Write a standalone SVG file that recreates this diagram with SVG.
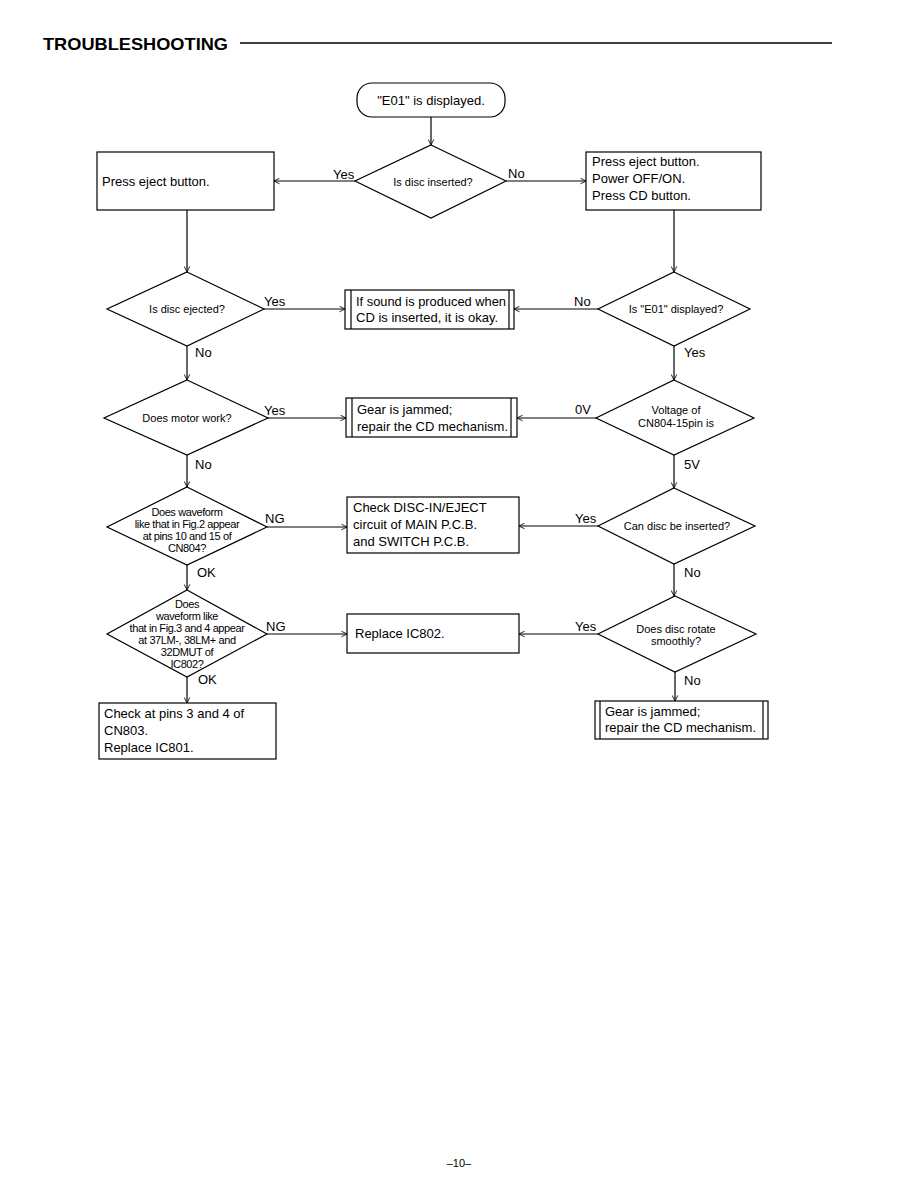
<svg xmlns="http://www.w3.org/2000/svg" width="918" height="1188" viewBox="0 0 918 1188">
<defs>
<style>
.s{fill:none;stroke:#000;stroke-width:1.2}
.b{fill:#fff;stroke:#000;stroke-width:1.2}
.t{font-family:"Liberation Sans",Arial,sans-serif;font-size:13px;fill:#000}
.d{font-family:"Liberation Sans",Arial,sans-serif;font-size:11px;fill:#000}
.c{font-family:"Liberation Sans",Arial,sans-serif;font-size:11px;fill:#000;letter-spacing:-0.4px}
.m{text-anchor:middle}
.l{font-family:"Liberation Sans",Arial,sans-serif;font-size:13px;fill:#000}
</style>
<marker id="a" viewBox="0 0 10 10" refX="10" refY="5" markerWidth="7" markerHeight="7" orient="auto" markerUnits="userSpaceOnUse">
<path d="M2,1 L10,5 L2,9" fill="none" stroke="#000" stroke-width="1.2"/>
</marker>
</defs>
<rect width="918" height="1188" fill="#fff"/>
<text x="43" y="50" font-family="Liberation Sans,Arial,sans-serif" font-size="17" font-weight="bold" textLength="185" lengthAdjust="spacingAndGlyphs">TROUBLESHOOTING</text>
<line x1="240" y1="43" x2="832" y2="43" stroke="#000" stroke-width="1.5"/>

<g id="connectors" class="s">
<line x1="431" y1="117" x2="431" y2="145" marker-end="url(#a)"/>
<line x1="355" y1="181" x2="274" y2="181" marker-end="url(#a)"/>
<line x1="506" y1="181" x2="586" y2="181" marker-end="url(#a)"/>
<line x1="187" y1="210" x2="187" y2="272" marker-end="url(#a)"/>
<line x1="674" y1="210" x2="674" y2="272" marker-end="url(#a)"/>
<line x1="264" y1="309" x2="345" y2="309" marker-end="url(#a)"/>
<line x1="598" y1="309" x2="514" y2="309" marker-end="url(#a)"/>
<line x1="187" y1="346" x2="187" y2="380" marker-end="url(#a)"/>
<line x1="674" y1="346" x2="674" y2="380" marker-end="url(#a)"/>
<line x1="268" y1="418" x2="346" y2="418" marker-end="url(#a)"/>
<line x1="596" y1="418" x2="517" y2="418" marker-end="url(#a)"/>
<line x1="187" y1="455" x2="187" y2="487" marker-end="url(#a)"/>
<line x1="674" y1="455" x2="674" y2="488" marker-end="url(#a)"/>
<line x1="267" y1="527" x2="347" y2="527" marker-end="url(#a)"/>
<line x1="598" y1="526" x2="519" y2="526" marker-end="url(#a)"/>
<line x1="187" y1="565" x2="187" y2="590" marker-end="url(#a)"/>
<line x1="674" y1="564" x2="674" y2="596" marker-end="url(#a)"/>
<line x1="267" y1="634" x2="347" y2="634" marker-end="url(#a)"/>
<line x1="598" y1="634" x2="519" y2="634" marker-end="url(#a)"/>
<line x1="187" y1="677" x2="187" y2="703" marker-end="url(#a)"/>
<line x1="675" y1="672" x2="675" y2="701" marker-end="url(#a)"/>
</g>
<g id="edge-labels" class="l">
<text x="333" y="179">Yes</text>
<text x="508" y="178">No</text>
<text x="264" y="306">Yes</text>
<text x="574" y="306">No</text>
<text x="195" y="357">No</text>
<text x="684" y="357">Yes</text>
<text x="264" y="415">Yes</text>
<text x="575" y="414">0V</text>
<text x="195" y="469">No</text>
<text x="684" y="469">5V</text>
<text x="265" y="523">NG</text>
<text x="575" y="523">Yes</text>
<text x="197" y="577">OK</text>
<text x="684" y="577">No</text>
<text x="266" y="631">NG</text>
<text x="575" y="631">Yes</text>
<text x="198" y="684">OK</text>
<text x="684" y="685">No</text>
</g>

<g id="start">
<rect x="357" y="83" width="148" height="34" rx="15" class="b"/>
<text x="431" y="105" class="t m">"E01" is displayed.</text>
</g>
<g id="q-inserted">
<polygon points="431,145 506,181 431,218 355,181" class="b"/>
<text x="433" y="186" class="d m">Is disc inserted?</text>
</g>
<g id="press-eject">
<rect x="97" y="152" width="177" height="58" class="b"/>
<text x="102" y="186" class="t">Press eject button.</text>
</g>
<g id="press-eject-power">
<rect x="586" y="152" width="175" height="58" class="b"/>
<text x="592" y="166" class="t">Press eject button.</text>
<text x="592" y="183" class="t">Power OFF/ON.</text>
<text x="592" y="200" class="t">Press CD button.</text>
</g>
<g id="q-ejected">
<polygon points="187,272 264,309 187,346 107,309" class="b"/>
<text x="187" y="313" class="d m">Is disc ejected?</text>
</g>
<g id="sound-ok">
<rect x="345" y="290" width="169" height="39" class="b"/>
<line x1="351" y1="290" x2="351" y2="329" class="s"/>
<line x1="509" y1="290" x2="509" y2="329" class="s"/>
<text x="356" y="306" class="t" textLength="150" lengthAdjust="spacingAndGlyphs">If sound is produced when</text>
<text x="356" y="322" class="t">CD is inserted, it is okay.</text>
</g>
<g id="q-e01">
<polygon points="674,272 750,309 674,346 598,309" class="b"/>
<text x="676" y="313" class="d m">Is "E01" displayed?</text>
</g>
<g id="q-motor">
<polygon points="187,380 268,418 187,455 104,418" class="b"/>
<text x="187" y="422" class="d m">Does motor work?</text>
</g>
<g id="gear-jammed-1">
<rect x="346" y="398" width="171" height="39" class="b"/>
<line x1="352" y1="398" x2="352" y2="437" class="s"/>
<line x1="511" y1="398" x2="511" y2="437" class="s"/>
<text x="357" y="414" class="t">Gear is jammed;</text>
<text x="357" y="431" class="t">repair the CD mechanism.</text>
</g>
<g id="q-voltage">
<polygon points="674,380 754,418 674,455 596,418" class="b"/>
<text x="676" y="414" class="d m">Voltage of</text>
<text x="676" y="427" class="d m">CN804-15pin is</text>
</g>
<g id="q-waveform-1">
<polygon points="187,487 267,527 187,565 107,527" class="b"/>
<text x="187" y="516" class="c m">Does waveform</text>
<text x="187" y="528" class="c m">like that in Fig.2 appear</text>
<text x="187" y="540" class="c m">at pins 10 and 15 of</text>
<text x="187" y="552" class="c m">CN804?</text>
</g>
<g id="check-disc-in">
<rect x="347" y="497" width="172" height="56" class="b"/>
<text x="353" y="512" class="t">Check DISC-IN/EJECT</text>
<text x="353" y="529" class="t">circuit of MAIN P.C.B.</text>
<text x="353" y="546" class="t">and SWITCH P.C.B.</text>
</g>
<g id="q-can-insert">
<polygon points="674,488 755,526 674,564 598,526" class="b"/>
<text x="677" y="530" class="d m">Can disc be inserted?</text>
</g>
<g id="q-waveform-2">
<polygon points="187,590 267,634 187,677 107,634" class="b"/>
<text x="187" y="608" class="c m">Does</text>
<text x="187" y="620" class="c m">waveform like</text>
<text x="187" y="632" class="c m">that in Fig.3 and 4 appear</text>
<text x="187" y="644" class="c m">at 37LM-, 38LM+ and</text>
<text x="187" y="656" class="c m">32DMUT of</text>
<text x="187" y="668" class="c m">IC802?</text>
</g>
<g id="replace-ic802">
<rect x="347" y="614" width="172" height="39" class="b"/>
<text x="355" y="638" class="t">Replace IC802.</text>
</g>
<g id="q-rotate">
<polygon points="675,596 756,634 675,672 598,634" class="b"/>
<text x="676" y="633" class="d m">Does disc rotate</text>
<text x="676" y="645" class="d m">smoothly?</text>
</g>
<g id="gear-jammed-2">
<rect x="595" y="701" width="173" height="38" class="b"/>
<line x1="600" y1="701" x2="600" y2="739" class="s"/>
<line x1="763" y1="701" x2="763" y2="739" class="s"/>
<text x="605" y="716" class="t">Gear is jammed;</text>
<text x="605" y="732" class="t">repair the CD mechanism.</text>
</g>
<g id="check-pins">
<rect x="99" y="703" width="177" height="56" class="b"/>
<text x="104" y="718" class="t">Check at pins 3 and 4 of</text>
<text x="104" y="735" class="t">CN803.</text>
<text x="104" y="752" class="t">Replace IC801.</text>
</g>
<text x="459" y="1167" font-family="Liberation Sans,Arial,sans-serif" font-size="11" text-anchor="middle">–10–</text>
</svg>
